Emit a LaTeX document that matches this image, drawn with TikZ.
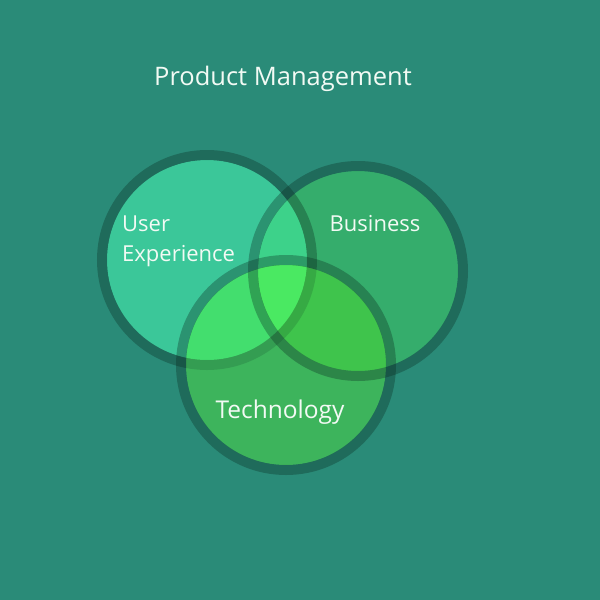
\documentclass[tikz,border=0pt]{standalone}
\usepackage{fontspec}
\setmainfont{Open Sans}
\definecolor{bgc}{HTML}{2A8B78}
\definecolor{uxc}{HTML}{3BC799}
\definecolor{bizc}{HTML}{35AD6C}
\definecolor{techc}{HTML}{3DB45C}
\definecolor{uxbiz}{HTML}{3DD28A}
\definecolor{uxtech}{HTML}{43DE6E}
\definecolor{biztech}{HTML}{3FC44C}
\definecolor{allc}{HTML}{4AE962}
\definecolor{ringc}{HTML}{0A281E}
\definecolor{txtc}{HTML}{F2FAF4}
\begin{document}
\begin{tikzpicture}[x=1pt,y=-1pt,
  ring/.style={draw=ringc,draw opacity=0.32,line width=10pt},
  faintring/.style={draw=ringc,draw opacity=0.16,line width=10pt},
  lbl/.style={text=txtc,font=\fontsize{22}{27}\selectfont,inner sep=0pt}]
\fill[bgc] (0,0) rectangle (600,600);
\useasboundingbox (0,0) rectangle (600,600);
\def\R{100}
\coordinate (ux) at (207,260);
\coordinate (biz) at (358,271);
\coordinate (tech) at (286,365);
% base fills (inside the rings' inner edge)
\fill[uxc] (ux) circle (\R);
\fill[bizc] (biz) circle (\R);
\fill[techc] (tech) circle (\R);
% pairwise overlaps
\begin{scope}
  \clip (ux) circle (\R);
  \fill[uxbiz] (biz) circle (\R);
  \fill[uxtech] (tech) circle (\R);
\end{scope}
\begin{scope}
  \clip (biz) circle (\R);
  \fill[biztech] (tech) circle (\R);
\end{scope}
\begin{scope}
  \clip (ux) circle (\R);
  \clip (biz) circle (\R);
  \fill[allc] (tech) circle (\R);
\end{scope}
% rings
\begin{scope}[even odd rule]
  \clip (tech) circle (\R) (0,0) rectangle (600,600);
  \node[circle,minimum size=210pt,inner sep=0pt,outer sep=0pt,ring] (uxring) at (ux) {};
\end{scope}
\begin{scope}
  \clip (tech) circle (\R);
  \node[circle,minimum size=210pt,inner sep=0pt,outer sep=0pt,faintring] (uxringin) at (ux) {};
\end{scope}
\node[circle,minimum size=210pt,inner sep=0pt,outer sep=0pt,ring] (bizring) at (biz) {};
\node[circle,minimum size=210pt,inner sep=0pt,outer sep=0pt,ring] (techring) at (tech) {};
% labels
\node[lbl,anchor=base west] (uxlbl) at (122,231) {User};
\node[lbl,anchor=base west] (uxlbl2) at (122,261) {Experience};
\node[lbl,anchor=base] (bizlbl) at (375,231) {Business};
\node[lbl,font=\fontsize{24.5}{29}\selectfont,anchor=base] (techlbl) at (280,418) {Technology};
\node[text=txtc,font=\fontsize{25.5}{30}\selectfont,inner sep=0pt,anchor=base] (title) at (283,85) {Product Management};
\end{tikzpicture}
\end{document}
